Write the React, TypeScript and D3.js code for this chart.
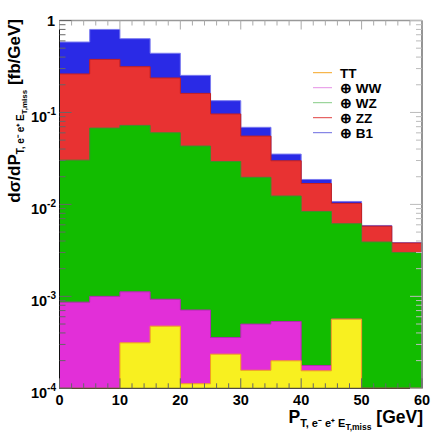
import * as d3 from 'd3';

const W = 434;
const H = 433;

// bin lower edges [GeV], 5 GeV wide
const binLow = [0, 5, 10, 15, 20, 25, 30, 35, 40, 45, 50, 55];
const binWidth = 5;

// per-process contributions [fb/GeV], stacked in this order
const tt = [0, 0, 3.12e-4, 4.74e-4, 1.12e-4, 2.35e-4, 1.57e-4, 1.99e-4, 1.55e-4, 5.65e-4, 0, 0];
const ww = [8.65e-4, 1.0e-3, 8.08e-4, 4.56e-4, 5.98e-4, 1.22e-4, 3.42e-4, 3.34e-4, 2.2e-5, 0, 0, 0];
const wz = [0.0294, 0.0666, 0.0712, 0.0592, 0.0424, 0.0289, 0.0192, 0.0118, 0.0082, 0.0056, 0.0039, 0.003];
const zz = [0.232, 0.31, 0.242, 0.177, 0.118, 0.067, 0.0356, 0.0175, 0.0085, 0.0041, 0.0019, 0.0008];
const b1 = [0.321, 0.422, 0.32, 0.203, 0.092, 0.038, 0.0136, 0.0054, 0.0018, 0.0005, 0.0001, 0.00004];

const series = [
  { key: 'TT', label: 'TT', values: tt, fill: '#f8f020', stroke: '#f0a020', legend: '#f5a623' },
  { key: 'WW', label: '⊕ WW', values: ww, fill: '#e22fd8', stroke: '#b32ab0', legend: '#e590e5' },
  { key: 'WZ', label: '⊕ WZ', values: wz, fill: '#12bc00', stroke: '#3f8f2f', legend: '#85cc85' },
  { key: 'ZZ', label: '⊕ ZZ', values: zz, fill: '#e83232', stroke: '#c42020', legend: '#e04040' },
  { key: 'B1', label: '⊕ B1', values: b1, fill: '#2a2ae6', stroke: '#7a7af0', legend: '#6a6ae0' },
];

const xTicks = [0, 10, 20, 30, 40, 50, 60];
const yTicks = [1e-4, 1e-3, 1e-2, 1e-1, 1];
const yTickExp = ['-4', '-3', '-2', '-1', ''];

const L = 59.5, R = 422, T = 20.5, B = 388.3;
const YMIN = 1e-4;

export default function App() {
  const x = d3.scaleLinear().domain([0, 60]).range([L, R]);
  const y = d3.scaleLog().domain([YMIN, 1]).range([B, T]);

  const rows = binLow.map((lo, i) => {
    const r: any = { lo };
    series.forEach(s => (r[s.key] = s.values[i]));
    return r;
  });
  const layers = d3.stack<any>().keys(series.map(s => s.key))(rows);

  // edge points: each bin top, plus closing point at the last edge
  const pts = (layer: any) => {
    const p = layer.map((d: any) => ({ x: d.data.lo, v: d[1] }));
    p.push({ x: binLow[binLow.length - 1] + binWidth, v: layer[layer.length - 1][1] });
    return p;
  };
  const yv = (v: number) => y(Math.max(v, YMIN));
  const area = d3
    .area<{ x: number; v: number }>()
    .curve(d3.curveStepAfter)
    .x(d => x(d.x))
    .y0(B)
    .y1(d => yv(d.v));
  const outline = (p: { x: number; v: number }[]) => {
    let dstr = `M${x(p[0].x)},${B}`;
    p.forEach((d, i) => {
      dstr += `L${x(d.x)},${yv(i > 0 ? p[i - 1].v : d.v)}L${x(d.x)},${yv(d.v)}`;
    });
    dstr += `L${x(p[p.length - 1].x)},${B}`;
    return dstr;
  };

  const xMinor = d3.range(0, 61, 2).filter(v => v % 10 !== 0);
  const yMinor: number[] = [];
  for (let e = -4; e < 0; e++) for (let k = 2; k <= 9; k++) yMinor.push(k * Math.pow(10, e));

  const font = 'Liberation Sans, Arial, Helvetica, sans-serif';

  return (
    <svg width={W} height={H} style={{ position: 'absolute', left: 0, top: 0, background: '#fff' }} fontFamily={font}>
      {[...layers].reverse().map((layer, i) => {
        const s = series[series.length - 1 - i];
        const p = pts(layer);
        return (
          <g key={s.key}>
            <path d={area(p) || ''} fill={s.fill} />
            <path d={outline(p)} fill="none" stroke={s.stroke} strokeWidth={1} />
          </g>
        );
      })}

      {/* frame */}
      <line x1={L} x2={R} y1={T} y2={T} stroke="#999" strokeWidth={1.5} />
      <line x1={R} x2={R} y1={T} y2={B} stroke="#888" strokeWidth={1.8} />
      <line x1={L} x2={L} y1={T} y2={B} stroke="#111" strokeWidth={1} />
      <line x1={L} x2={R} y1={B} y2={B} stroke="#333" strokeWidth={1} />

      {/* x ticks bottom and top */}
      {xTicks.map(v => (
        <g key={'xt' + v}>
          <line x1={x(v)} x2={x(v)} y1={B} y2={B - 10} stroke="#666" />
          <line x1={x(v)} x2={x(v)} y1={T} y2={T + 9} stroke="#aaa" />
          <text x={x(v)} y={405} textAnchor="middle" fontSize={14.5} fontWeight="bold">
            {v}
          </text>
        </g>
      ))}
      {xMinor.map(v => (
        <g key={'xm' + v}>
          <line x1={x(v)} x2={x(v)} y1={B} y2={B - 5} stroke="#666" />
          <line x1={x(v)} x2={x(v)} y1={T} y2={T + 5} stroke="#aaa" />
        </g>
      ))}

      {/* y ticks left and right */}
      {yTicks.map((v, i) => (
        <g key={'yt' + i}>
          <line x1={L} x2={L + 12} y1={y(v)} y2={y(v)} stroke="#666" />
          <line x1={R} x2={R - 12} y1={y(v)} y2={y(v)} stroke="#bbb" />
          {yTickExp[i] === '' ? (
            <text x={55} y={y(v) + 5} textAnchor="end" fontSize={14.5} fontWeight="bold">
              1
            </text>
          ) : (
            <text x={56} y={y(v) + 10} textAnchor="end" fontSize={14.5} fontWeight="bold">
              10
              <tspan fontSize={10} dy={-7}>
                {yTickExp[i]}
              </tspan>
            </text>
          )}
        </g>
      ))}
      {yMinor.map((v, i) => (
        <g key={'ym' + i}>
          <line x1={L} x2={L + 6} y1={y(v)} y2={y(v)} stroke="#666" />
          <line x1={R} x2={R - 6} y1={y(v)} y2={y(v)} stroke="#bbb" />
        </g>
      ))}

      {/* legend */}
      {series.map((s, i) => (
        <g key={'lg' + s.key} transform={`translate(0,${72.7 + i * 15})`}>
          <line x1={313} x2={332} y1={0} y2={0} stroke={s.legend} strokeWidth={1} />
          <text x={340} y={4.8} fontSize={13.5} fontWeight="bold">
            {s.label}
          </text>
        </g>
      ))}

      {/* axis titles */}
      <text x={423} y={423} textAnchor="end" fontSize={17.5} fontWeight="bold">
        P
        <tspan fontSize={11} dy={4}>
          T, e⁻ e⁺ E
        </tspan>
        <tspan fontSize={8.5} dy={3}>
          T,miss
        </tspan>
        <tspan fontSize={17.5} dy={-7}>
          {' [GeV]'}
        </tspan>
      </text>
      <text transform="translate(20,19) rotate(-90)" textAnchor="end" fontSize={17} fontWeight="bold">
        dσ/dP
        <tspan fontSize={10} dy={4}>
          T, e⁻ e⁺ E
        </tspan>
        <tspan fontSize={8} dy={3}>
          T,miss
        </tspan>
        <tspan fontSize={17} dy={-7}>
          {' [fb/GeV]'}
        </tspan>
      </text>
    </svg>
  );
}
